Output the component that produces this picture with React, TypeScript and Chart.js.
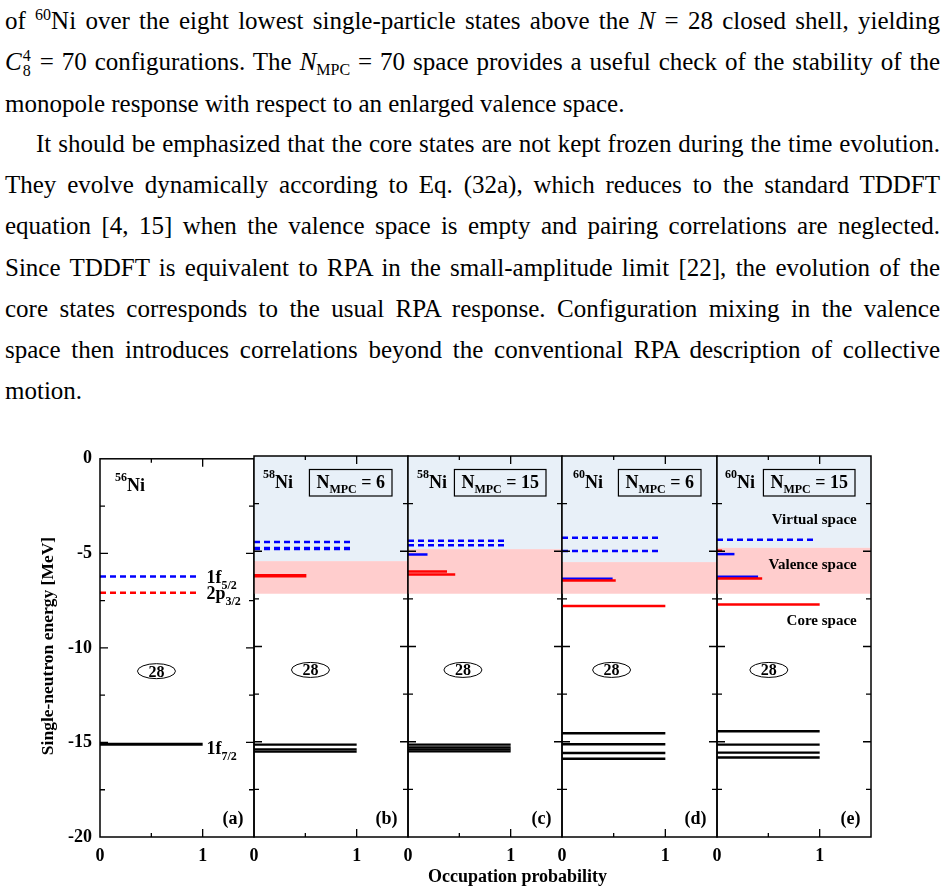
import React, { useEffect, useRef } from 'react';
import { Chart, registerables } from 'chart.js';

Chart.register(...registerables);

const SERIF = '"Liberation Serif", "Times New Roman", Times, serif';

// ---------------- data ----------------
const PANEL_TAGS = ['(a)', '(b)', '(c)', '(d)', '(e)'];
const MASS_NUMBERS = ['56', '58', '58', '60', '60'];
const N_MPC: (number | null)[] = [null, 6, 15, 6, 15];
const SHELL_GAP = '28';

// axes
const OCC_MIN = 0;
const OCC_MAX = 1.5;
const OCC_STEP = 0.5;
const OCC_TICK_LABELS = [0, 1];
const E_MIN = -20;
const E_MAX = 0;
const E_STEP = 2.5;
const E_LABEL_EVERY = 5;

// lower edges of the virtual and valence spaces (MeV)
const VIRTUAL_LOWER: (number | null)[] = [null, -5.52, -4.89, -5.57, -4.82];
const VALENCE_LOWER: (number | null)[] = [null, -7.23, -7.23, -7.23, -7.23];

// unoccupied levels (dashed), drawn out to a fixed extent
const UNOCCUPIED_EXTENT = 0.95;
const DASHED_BLUE_E = [[-6.22], [-4.52, -4.83, -4.88], [-4.45, -4.69], [-4.29, -4.99], [-4.40]];
const DASHED_RED_E = [[-7.09], [], [], [], []];

// partially occupied levels: energy (MeV) and occupation probability
const RED_E = [[], [-6.29], [-6.06, -6.22], [-6.53, -7.87], [-4.97, -6.43, -7.80]];
const RED_OCC = [[], [0.51], [0.38, 0.46], [0.52, 1.0], [0.05, 0.44, 1.0]];
const BLUE_E = [[], [], [-5.17], [-6.45], [-5.15, -6.34]];
const BLUE_OCC = [[], [], [0.19], [0.49], [0.17, 0.40]];

// core levels
const CORE_E = [
  [-15.1],
  [-15.15, -15.4, -15.52],
  [-15.15, -15.3, -15.4, -15.5],
  [-14.55, -15.13, -15.59, -15.89],
  [-14.45, -15.15, -15.57, -15.83],
];
const CORE_OCC = [[1], [1, 1, 1], [1, 1, 1, 1], [1, 1, 1, 1], [1, 1, 1, 1]];

// orbital labels of panel (a) and space labels of panel (e)
const ORBITAL_LABELS = [['1f', '5/2'], ['2p', '3/2'], ['1f', '7/2']];
const SPACE_LABELS = ['Virtual space', 'Valence space', 'Core space'];

const X_TITLE = 'Occupation probability';
const Y_TITLE = 'Single-neutron energy [MeV]';

// ---------------- layout / style ----------------
const CANVAS_W = 945;
const CANVAS_H = 454;
const CANVAS_TOP = 440;
const PLOT_EDGES = [100, 254, 408, 562, 717, 871];
const PLOT_TOP = 16;
const X_AXIS_HEIGHT = 57;

const BLUE = '#0000ff';
const RED = '#ff0000';
const VIRTUAL_FILL = 'rgb(232,240,248)';
const VALENCE_FILL = 'rgb(255,205,205)';
const DASH = [6, 4];
const CORE_WIDTH = [3, 2.2, 2.2, 2.4, 2.4];
const NUCLEUS_DX = [15, 9, 9, 11, 8];
const ELLIPSE_X = [0.55, 0.55, 0.535, 0.48, 0.505];
const ELLIPSE_Y = -11.23;

type Run = { text: string; size: number; dy?: number };

function drawRuns(ctx: CanvasRenderingContext2D, runs: Run[], x: number, y: number, align: 'left' | 'right' | 'center' = 'left') {
  const widths = runs.map((r) => {
    ctx.font = `bold ${r.size}px ${SERIF}`;
    return ctx.measureText(r.text).width;
  });
  const total = widths.reduce((s, w) => s + w, 0);
  let cx = align === 'left' ? x : align === 'right' ? x - total : x - total / 2;
  ctx.textAlign = 'left';
  ctx.textBaseline = 'alphabetic';
  runs.forEach((r, k) => {
    ctx.font = `bold ${r.size}px ${SERIF}`;
    ctx.fillText(r.text, cx, y + (r.dy || 0));
    cx += widths[k];
  });
  return total;
}

function buildConfig(i: number): any {
  const seg = (e: number, occ: number) => [
    { x: 0, y: e },
    { x: occ, y: e },
  ];
  const base = { showLine: true, pointRadius: 0, fill: false, tension: 0, borderCapStyle: 'butt' };
  const datasets: any[] = [];
  DASHED_RED_E[i].forEach((e) =>
    datasets.push({ ...base, data: seg(e, UNOCCUPIED_EXTENT), borderColor: RED, borderWidth: 2.5, borderDash: DASH })
  );
  DASHED_BLUE_E[i].forEach((e) =>
    datasets.push({ ...base, data: seg(e, UNOCCUPIED_EXTENT), borderColor: BLUE, borderWidth: 2.5, borderDash: DASH })
  );
  RED_E[i].forEach((e, k) =>
    datasets.push({ ...base, data: seg(e, RED_OCC[i][k]), borderColor: RED, borderWidth: i === 1 ? 3.5 : 2.5 })
  );
  BLUE_E[i].forEach((e, k) =>
    datasets.push({ ...base, data: seg(e, BLUE_OCC[i][k]), borderColor: BLUE, borderWidth: 2.5 })
  );
  CORE_E[i].forEach((e, k) =>
    datasets.push({ ...base, data: seg(e, CORE_OCC[i][k]), borderColor: '#000', borderWidth: CORE_WIDTH[i] })
  );

  // shaded virtual and valence spaces
  const bandPlugin = {
    id: 'spaceBands',
    beforeDatasetsDraw(chart: any) {
      const vLow = VIRTUAL_LOWER[i];
      const valLow = VALENCE_LOWER[i];
      if (vLow == null || valLow == null) return;
      const { ctx, chartArea: a, scales } = chart;
      const y = scales.y;
      ctx.save();
      const y0 = y.getPixelForValue(E_MAX);
      const y1 = y.getPixelForValue(vLow);
      const y2 = y.getPixelForValue(valLow);
      ctx.fillStyle = VIRTUAL_FILL;
      ctx.fillRect(a.left, y0, a.right - a.left, y1 - y0);
      ctx.fillStyle = VALENCE_FILL;
      ctx.fillRect(a.left, y1, a.right - a.left, y2 - y1);
      ctx.restore();
    },
  };

  // frame with inward tick marks on all four sides
  const framePlugin = {
    id: 'frameTicks',
    afterDatasetsDraw(chart: any) {
      const { ctx, chartArea: a, scales } = chart;
      const { x, y } = scales;
      ctx.save();
      ctx.strokeStyle = '#000';
      ctx.lineWidth = 1.3;
      ctx.beginPath();
      y.ticks.forEach((t: any) => {
        if (t.value <= E_MIN || t.value >= E_MAX) return;
        const py = y.getPixelForValue(t.value);
        const len = Math.abs(t.value % E_LABEL_EVERY) < 1e-9 ? 8 : 5;
        ctx.moveTo(a.left, py);
        ctx.lineTo(a.left + len, py);
        ctx.moveTo(a.right, py);
        ctx.lineTo(a.right - len, py);
      });
      x.ticks.forEach((t: any) => {
        if (t.value <= OCC_MIN || t.value >= OCC_MAX) return;
        const px = x.getPixelForValue(t.value);
        const len = Math.abs(t.value - Math.round(t.value)) < 1e-9 ? 8 : 4;
        ctx.moveTo(px, a.bottom);
        ctx.lineTo(px, a.bottom - len);
        ctx.moveTo(px, a.top);
        ctx.lineTo(px, a.top + len);
      });
      ctx.stroke();
      ctx.lineWidth = 1.5;
      ctx.strokeRect(a.left, a.top, a.right - a.left, a.bottom - a.top);
      ctx.restore();
    },
  };

  // nucleus, N_MPC box, shell gap, panel tag and other labels
  const decorPlugin = {
    id: 'panelDecor',
    afterDraw(chart: any) {
      const { ctx, chartArea: a, scales } = chart;
      const { x, y } = scales;
      ctx.save();
      ctx.fillStyle = '#000';
      ctx.strokeStyle = '#000';

      drawRuns(ctx, [{ text: MASS_NUMBERS[i], size: 12, dy: -10.3 }, { text: 'Ni', size: 18 }], a.left + NUCLEUS_DX[i], a.top + 32.3);

      const n = N_MPC[i];
      if (n != null) {
        const runs: Run[] = [
          { text: 'N', size: 18 },
          { text: 'MPC', size: 12, dy: 4.5 },
          { text: ` = ${n}`, size: 18 },
        ];
        const w = drawRuns(ctx, runs, -1000, -1000);
        const right = a.right - 16;
        const left = right - w - 14;
        ctx.lineWidth = 1.2;
        ctx.strokeRect(left, a.top + 13.5, right - left, 26.5);
        drawRuns(ctx, runs, left + 7, a.top + 32.3);
      }

      // closed shell marker
      const cx = x.getPixelForValue(ELLIPSE_X[i]);
      const cy = y.getPixelForValue(ELLIPSE_Y);
      ctx.lineWidth = 1;
      ctx.beginPath();
      ctx.ellipse(cx, cy, 19, 7.5, 0, 0, Math.PI * 2);
      ctx.stroke();
      drawRuns(ctx, [{ text: SHELL_GAP, size: 16 }], cx, cy + 5.5, 'center');

      drawRuns(ctx, [{ text: PANEL_TAGS[i], size: 18 }], a.right - 10.5, a.bottom - 13, 'right');

      if (i === 0) {
        const lx = a.left + 106.5;
        drawRuns(ctx, [{ text: ORBITAL_LABELS[0][0], size: 18 }, { text: ORBITAL_LABELS[0][1], size: 12, dy: 6 }], lx, a.top + 124);
        drawRuns(ctx, [{ text: ORBITAL_LABELS[1][0], size: 18 }, { text: ORBITAL_LABELS[1][1], size: 12, dy: 6 }], lx, a.top + 140.5);
        drawRuns(ctx, [{ text: ORBITAL_LABELS[2][0], size: 18 }, { text: ORBITAL_LABELS[2][1], size: 12, dy: 6 }], lx, a.top + 295);

        // y-axis title
        ctx.save();
        ctx.translate(53, 206);
        ctx.rotate(-Math.PI / 2);
        ctx.font = `bold 17.5px ${SERIF}`;
        ctx.textAlign = 'center';
        ctx.textBaseline = 'alphabetic';
        ctx.fillText(Y_TITLE, 0, 0);
        ctx.restore();
      }
      if (i === 2) {
        ctx.font = `bold 18px ${SERIF}`;
        ctx.textAlign = 'center';
        ctx.textBaseline = 'alphabetic';
        ctx.fillText(X_TITLE, 517.5, 442);
      }
      if (i === 4) {
        const rx = a.right - 14.3;
        drawRuns(ctx, [{ text: SPACE_LABELS[0], size: 15 }], rx, a.top + 67.5, 'right');
        drawRuns(ctx, [{ text: SPACE_LABELS[1], size: 15 }], rx, a.top + 113.3, 'right');
        drawRuns(ctx, [{ text: SPACE_LABELS[2], size: 15 }], rx, a.top + 169, 'right');
      }
      ctx.restore();
    },
  };

  const tickFont = { family: SERIF, size: 18, weight: 'bold' as const };
  const yAxisWidth = i === 0 ? PLOT_EDGES[0] : 0;

  return {
    type: 'scatter',
    data: { datasets },
    plugins: [bandPlugin, framePlugin, decorPlugin],
    options: {
      responsive: false,
      animation: false,
      devicePixelRatio: 1,
      events: [],
      layout: {
        padding: {
          left: PLOT_EDGES[i] - yAxisWidth,
          right: CANVAS_W - PLOT_EDGES[i + 1],
          top: PLOT_TOP,
          bottom: 0,
        },
      },
      plugins: { legend: { display: false }, tooltip: { enabled: false }, title: { display: false } },
      scales: {
        x: {
          type: 'linear',
          min: OCC_MIN,
          max: OCC_MAX,
          afterFit: (s: any) => {
            s.height = X_AXIS_HEIGHT;
          },
          grid: { display: false, drawTicks: false },
          border: { display: false },
          ticks: {
            stepSize: OCC_STEP,
            autoSkip: false,
            maxRotation: 0,
            padding: 9,
            color: '#000',
            font: tickFont,
            callback: (v: number) =>
              OCC_TICK_LABELS.some((l) => Math.abs(l - v) < 1e-9) ? String(Math.round(v)) : '',
          },
        },
        y: {
          type: 'linear',
          min: E_MIN,
          max: E_MAX,
          afterFit: (s: any) => {
            s.width = yAxisWidth;
          },
          grid: { display: false, drawTicks: false },
          border: { display: false },
          ticks: {
            display: i === 0,
            stepSize: E_STEP,
            autoSkip: false,
            padding: 8,
            color: '#000',
            font: tickFont,
            callback: (v: number) => (Math.abs(v % E_LABEL_EVERY) < 1e-9 ? String(Math.round(v)) : ''),
          },
        },
      },
    },
  };
}

function Panel({ index }: { index: number }) {
  const ref = useRef<HTMLCanvasElement>(null);
  useEffect(() => {
    const chart = new Chart(ref.current as HTMLCanvasElement, buildConfig(index));
    return () => chart.destroy();
  }, [index]);
  return (
    <canvas
      ref={ref}
      width={CANVAS_W}
      height={CANVAS_H}
      style={{ position: 'absolute', left: 0, top: CANVAS_TOP, width: CANVAS_W, height: CANVAS_H }}
    />
  );
}

function Line({ baseline, indent = 0, last = false, children }: any) {
  return (
    <div
      style={{
        position: 'absolute',
        left: 5 + indent,
        top: baseline - 23,
        width: 935 - indent,
        height: 30,
        fontFamily: SERIF,
        fontSize: 25,
        lineHeight: '30px',
        color: '#000',
        textAlign: last ? 'left' : 'justify',
        textAlignLast: last ? 'left' : 'justify',
      }}
    >
      {children}
    </div>
  );
}

const supStyle: React.CSSProperties = { fontSize: 16, lineHeight: 0, verticalAlign: '9px' };
const subStyle: React.CSSProperties = { fontSize: 16, lineHeight: 0, verticalAlign: '-5px' };

export default function App() {
  return (
    <div style={{ position: 'absolute', left: 0, top: 0, width: 945, height: 894, background: '#fff', overflow: 'hidden' }}>
      <Line baseline={29}>
        of <span style={supStyle}>60</span>Ni over the eight lowest single-particle states above the <i>N</i> = 28 closed shell, yielding
      </Line>
      <Line baseline={70}>
        <i>C</i>
        <span style={{ display: 'inline-block', position: 'relative', width: 10, height: 0 }}>
          <span style={{ position: 'absolute', left: 1, top: -22, fontSize: 16, lineHeight: '16px' }}>4</span>
          <span style={{ position: 'absolute', left: 1, top: -7, fontSize: 16, lineHeight: '16px' }}>8</span>
        </span>{' '}
        = 70 configurations. The <i>N</i>
        <span style={subStyle}>MPC</span> = 70 space provides a useful check of the stability of the
      </Line>
      <Line baseline={111.5} last>
        monopole response with respect to an enlarged valence space.
      </Line>
      <Line baseline={152} indent={31}>
        It should be emphasized that the core states are not kept frozen during the time evolution.
      </Line>
      <Line baseline={193}>They evolve dynamically according to Eq. (32a), which reduces to the standard TDDFT</Line>
      <Line baseline={234}>equation [4, 15] when the valence space is empty and pairing correlations are neglected.</Line>
      <Line baseline={275.5}>Since TDDFT is equivalent to RPA in the small-amplitude limit [22], the evolution of the</Line>
      <Line baseline={316.5}>core states corresponds to the usual RPA response. Configuration mixing in the valence</Line>
      <Line baseline={357.5}>space then introduces correlations beyond the conventional RPA description of collective</Line>
      <Line baseline={398.5} last>
        motion.
      </Line>
      {PANEL_TAGS.map((_, i) => (
        <Panel key={i} index={i} />
      ))}
    </div>
  );
}
